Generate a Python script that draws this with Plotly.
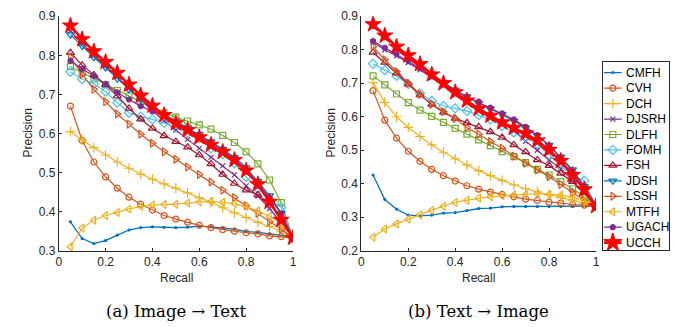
import plotly.graph_objects as go

recall = [0.05, 0.1, 0.15, 0.2, 0.25, 0.3, 0.35, 0.4, 0.45, 0.5,
          0.55, 0.6, 0.65, 0.7, 0.75, 0.8, 0.85, 0.9, 0.95, 1.0]

methods = ["CMFH", "CVH", "DCH", "DJSRH", "DLFH", "FOMH", "FSH", "JDSH", "LSSH", "MTFH", "UGACH", "UCCH"]

# (a) Image -> Text
i2t_CMFH = [0.374, 0.331, 0.318, 0.326, 0.340, 0.353, 0.359, 0.361, 0.360, 0.359, 0.360, 0.363, 0.361, 0.358, 0.355, 0.349, 0.347, 0.343, 0.339, 0.333]
i2t_CVH = [0.670, 0.582, 0.527, 0.489, 0.460, 0.437, 0.419, 0.404, 0.390, 0.381, 0.373, 0.365, 0.359, 0.354, 0.350, 0.346, 0.343, 0.338, 0.336, 0.333]
i2t_DCH = [0.605, 0.583, 0.564, 0.545, 0.527, 0.511, 0.496, 0.483, 0.471, 0.460, 0.448, 0.436, 0.424, 0.410, 0.397, 0.385, 0.373, 0.362, 0.350, 0.333]
i2t_DJSRH = [0.862, 0.831, 0.800, 0.773, 0.745, 0.715, 0.687, 0.657, 0.632, 0.609, 0.585, 0.562, 0.539, 0.517, 0.494, 0.466, 0.440, 0.408, 0.372, 0.333]
i2t_DLFH = [0.771, 0.756, 0.740, 0.725, 0.710, 0.696, 0.681, 0.669, 0.653, 0.642, 0.632, 0.622, 0.611, 0.595, 0.577, 0.553, 0.522, 0.481, 0.423, 0.333]
i2t_FOMH = [0.758, 0.739, 0.727, 0.707, 0.679, 0.653, 0.643, 0.636, 0.627, 0.615, 0.603, 0.588, 0.562, 0.547, 0.524, 0.489, 0.459, 0.431, 0.411, 0.333]
i2t_FSH = [0.807, 0.775, 0.750, 0.725, 0.696, 0.664, 0.637, 0.613, 0.594, 0.579, 0.565, 0.545, 0.522, 0.495, 0.472, 0.455, 0.443, 0.420, 0.383, 0.333]
i2t_JDSH = [0.853, 0.824, 0.795, 0.769, 0.740, 0.713, 0.688, 0.667, 0.649, 0.632, 0.615, 0.598, 0.579, 0.560, 0.539, 0.513, 0.478, 0.441, 0.396, 0.333]
i2t_LSSH = [0.795, 0.751, 0.713, 0.681, 0.650, 0.624, 0.598, 0.575, 0.553, 0.534, 0.514, 0.495, 0.476, 0.455, 0.436, 0.415, 0.396, 0.374, 0.355, 0.333]
i2t_MTFH = [0.310, 0.358, 0.378, 0.390, 0.398, 0.407, 0.413, 0.417, 0.418, 0.419, 0.422, 0.425, 0.426, 0.424, 0.420, 0.413, 0.402, 0.388, 0.370, 0.333]
i2t_UGACH = [0.786, 0.765, 0.747, 0.726, 0.705, 0.687, 0.670, 0.657, 0.647, 0.630, 0.612, 0.595, 0.577, 0.558, 0.535, 0.507, 0.472, 0.436, 0.395, 0.333]
i2t_UCCH = [0.876, 0.841, 0.810, 0.783, 0.755, 0.725, 0.697, 0.671, 0.647, 0.626, 0.609, 0.590, 0.571, 0.553, 0.532, 0.505, 0.470, 0.425, 0.379, 0.333]

# (b) Text -> Image
t2i_CMFH = [0.426, 0.353, 0.324, 0.306, 0.304, 0.306, 0.312, 0.314, 0.320, 0.326, 0.327, 0.331, 0.332, 0.332, 0.332, 0.332, 0.332, 0.332, 0.333, 0.333]
t2i_CVH = [0.678, 0.590, 0.536, 0.497, 0.467, 0.443, 0.424, 0.408, 0.394, 0.384, 0.375, 0.368, 0.361, 0.354, 0.350, 0.345, 0.342, 0.338, 0.336, 0.333]
t2i_DCH = [0.702, 0.643, 0.600, 0.568, 0.541, 0.516, 0.494, 0.474, 0.456, 0.439, 0.424, 0.410, 0.397, 0.385, 0.376, 0.367, 0.358, 0.351, 0.341, 0.333]
t2i_DJSRH = [0.822, 0.800, 0.782, 0.762, 0.740, 0.717, 0.693, 0.670, 0.648, 0.625, 0.605, 0.583, 0.558, 0.527, 0.500, 0.471, 0.445, 0.410, 0.372, 0.333]
t2i_DLFH = [0.722, 0.695, 0.668, 0.642, 0.620, 0.601, 0.583, 0.565, 0.548, 0.531, 0.514, 0.496, 0.481, 0.463, 0.443, 0.426, 0.406, 0.385, 0.361, 0.333]
t2i_FOMH = [0.758, 0.739, 0.722, 0.698, 0.670, 0.647, 0.632, 0.625, 0.617, 0.605, 0.592, 0.572, 0.553, 0.539, 0.519, 0.487, 0.452, 0.425, 0.409, 0.333]
t2i_FSH = [0.792, 0.762, 0.730, 0.697, 0.665, 0.637, 0.613, 0.595, 0.582, 0.570, 0.555, 0.538, 0.516, 0.495, 0.471, 0.454, 0.431, 0.406, 0.373, 0.333]
t2i_JDSH = [0.873, 0.840, 0.808, 0.782, 0.756, 0.728, 0.703, 0.680, 0.660, 0.641, 0.624, 0.607, 0.588, 0.567, 0.544, 0.515, 0.480, 0.442, 0.392, 0.333]
t2i_LSSH = [0.809, 0.770, 0.735, 0.700, 0.667, 0.637, 0.615, 0.595, 0.567, 0.548, 0.526, 0.506, 0.483, 0.461, 0.441, 0.421, 0.398, 0.373, 0.351, 0.333]
t2i_MTFH = [0.240, 0.265, 0.280, 0.294, 0.307, 0.321, 0.333, 0.344, 0.351, 0.357, 0.361, 0.364, 0.367, 0.368, 0.370, 0.368, 0.366, 0.360, 0.350, 0.333]
t2i_UGACH = [0.826, 0.806, 0.787, 0.767, 0.745, 0.721, 0.697, 0.677, 0.660, 0.645, 0.627, 0.610, 0.592, 0.570, 0.545, 0.514, 0.478, 0.438, 0.388, 0.333]
t2i_UCCH = [0.876, 0.842, 0.809, 0.783, 0.757, 0.726, 0.700, 0.673, 0.648, 0.624, 0.603, 0.583, 0.567, 0.550, 0.529, 0.501, 0.468, 0.426, 0.383, 0.333]

x_ticks = [0, 0.2, 0.4, 0.6, 0.8, 1]
x_ticklabels = ["0", "0.2", "0.4", "0.6", "0.8", "1"]
y_ticks_a = [0.3, 0.4, 0.5, 0.6, 0.7, 0.8, 0.9]
y_ticks_b = [0.2, 0.3, 0.4, 0.5, 0.6, 0.7, 0.8, 0.9]
captions = ["(a) Image \u2192 Text", "(b) Text \u2192 Image"]

i2t = [i2t_CMFH, i2t_CVH, i2t_DCH, i2t_DJSRH, i2t_DLFH, i2t_FOMH, i2t_FSH, i2t_JDSH, i2t_LSSH, i2t_MTFH, i2t_UGACH, i2t_UCCH]
t2i = [t2i_CMFH, t2i_CVH, t2i_DCH, t2i_DJSRH, t2i_DLFH, t2i_FOMH, t2i_FSH, t2i_JDSH, t2i_LSSH, t2i_MTFH, t2i_UGACH, t2i_UCCH]

styles = {
    "CMFH": dict(color="#0072BD", symbol="circle", size=2, width=1.3),
    "CVH": dict(color="#D95319", symbol="circle-open", size=6, width=1.2),
    "DCH": dict(color="#EDB120", symbol="cross-thin-open", size=7, width=1.2),
    "DJSRH": dict(color="#7E2F8E", symbol="x-thin-open", size=5, width=1.2),
    "DLFH": dict(color="#77AC30", symbol="square-open", size=6, width=1.2),
    "FOMH": dict(color="#4DBEEE", symbol="diamond-open", size=7, width=1.2),
    "FSH": dict(color="#A2142F", symbol="triangle-up-open", size=7, width=1.2),
    "JDSH": dict(color="#0072BD", symbol="triangle-down-open", size=7, width=1.2),
    "LSSH": dict(color="#D95319", symbol="triangle-right-open", size=7, width=1.2),
    "MTFH": dict(color="#EDB120", symbol="triangle-left-open", size=7, width=1.2),
    "UGACH": dict(color="#7E2F8E", symbol="circle", size=5, width=1.2),
    "UCCH": dict(color="#FF0000", symbol="star", size=12, width=2.5),
}

fig = go.Figure()

for data, xa, ya in [(i2t, "x", "y"), (t2i, "x2", "y2")]:
    for name, vals in zip(methods, data):
        s = styles[name]
        fig.add_trace(go.Scatter(
            x=recall, y=vals, mode="lines+markers", name=name,
            xaxis=xa, yaxis=ya, showlegend=False,
            line=dict(color=s["color"], width=s["width"]),
            marker=dict(symbol=s["symbol"], size=s["size"], color=s["color"],
                        line=dict(color=s["color"], width=1.2 if name != "UCCH" else 1)),
        ))

# Legend box drawn in its own small axes (MATLAB-style compact legend)
for i, name in enumerate(methods):
    s = styles[name]
    fig.add_trace(go.Scatter(
        x=[0.02, 0.285], y=[i, i], mode="lines", xaxis="x3", yaxis="y3", showlegend=False,
        line=dict(color=s["color"], width=s["width"]), hoverinfo="skip"))
    fig.add_trace(go.Scatter(
        x=[0.152], y=[i], mode="markers", xaxis="x3", yaxis="y3", showlegend=False,
        marker=dict(symbol=s["symbol"], size=s["size"] + (2 if name == "UCCH" else 0), color=s["color"],
                    line=dict(color=s["color"], width=1.2 if name != "UCCH" else 1)),
        hoverinfo="skip"))
    fig.add_annotation(text=name, x=0.32, y=i, xref="x3", yref="y3", xanchor="left", yanchor="middle",
                       showarrow=False, font=dict(family="Liberation Sans, Arial", size=12, color="#000000"))

axis_common = dict(showgrid=False, zeroline=False, showline=True, linecolor="#262626",
                   linewidth=1, ticks="inside", ticklen=3, tickcolor="#262626",
                   tickfont=dict(family="Liberation Sans, Arial", size=12, color="#262626"),
                   mirror=False, automargin=False)

ydom = [0.2333, 0.9502]
fig.update_layout(
    template="none",
    width=682, height=327,
    margin=dict(l=0, r=0, t=0, b=0, autoexpand=False),
    paper_bgcolor="white", plot_bgcolor="white",
    showlegend=False,
    xaxis=dict(domain=[0.0861, 0.4296], range=[0, 1], tickvals=x_ticks, ticktext=x_ticklabels, anchor="y", **axis_common),
    yaxis=dict(domain=ydom, range=[0.3, 0.9], tickvals=y_ticks_a, ticktext=[f"{v:g}" for v in y_ticks_a], anchor="x", **axis_common),
    xaxis2=dict(domain=[0.5298, 0.8739], range=[0, 1], tickvals=x_ticks, ticktext=x_ticklabels, anchor="y2", **axis_common),
    yaxis2=dict(domain=ydom, range=[0.2, 0.9], tickvals=y_ticks_b, ticktext=[f"{v:g}" for v in y_ticks_b], anchor="x2", **axis_common),
    xaxis3=dict(domain=[602.7 / 682, 669.3 / 682], range=[0, 1], anchor="y3", showgrid=False, zeroline=False,
                showticklabels=False, ticks="", showline=True, mirror=True, linecolor="#262626", linewidth=1,
                automargin=False),
    yaxis3=dict(domain=[(327 - 250) / 327, (327 - 62.3) / 327], range=[11.476, -0.673], anchor="x3",
                showgrid=False, zeroline=False, showticklabels=False, ticks="", showline=True, mirror=True,
                linecolor="#262626", linewidth=1, automargin=False),
    font=dict(family="Liberation Sans, Arial"),
)

# axis titles and captions
for xc in [176 / 682, 478.5 / 682]:
    fig.add_annotation(text="Recall", x=xc, y=(327 - 278) / 327, xref="paper", yref="paper",
                       xanchor="center", yanchor="middle",
                       showarrow=False, font=dict(family="Liberation Sans, Arial", size=12, color="#262626"))
for xc in [27 / 682, 330 / 682]:
    fig.add_annotation(text="Precision", x=xc, y=(327 - 133.5) / 327, xref="paper", yref="paper",
                       xanchor="center", yanchor="middle",
                       showarrow=False, textangle=-90,
                       font=dict(family="Liberation Sans, Arial", size=12, color="#262626"))
for xc, cap in zip([176 / 682, 478 / 682], captions):
    fig.add_annotation(text=cap, x=xc, y=(327 - 311) / 327, xref="paper", yref="paper",
                       xanchor="center", yanchor="middle",
                       showarrow=False, font=dict(family="DejaVu Serif, Liberation Serif", size=16.5, color="#000000"))

fig.write_html("out.html", config={"displayModeBar": False},
               post_script="document.body.style.margin='0';document.body.style.overflow='hidden';")
